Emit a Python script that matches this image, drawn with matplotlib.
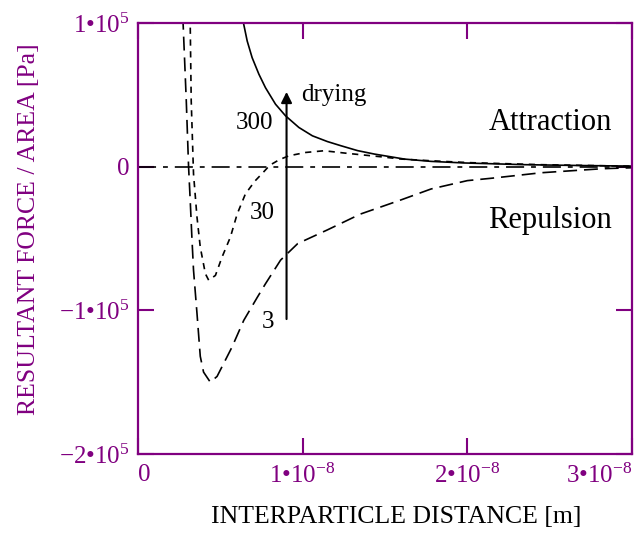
import numpy as np
import matplotlib
matplotlib.use("Agg")
import matplotlib.pyplot as plt

plt.rcParams['font.family'] = ['Liberation Serif', 'DejaVu Serif']
plt.rcParams['mathtext.fontset'] = 'custom'
plt.rcParams['mathtext.rm'] = 'Liberation Serif'
plt.rcParams['mathtext.it'] = 'Liberation Serif:italic'
plt.rcParams['lines.scale_dashes'] = False

PURPLE = '#800080'

# distances in units of 1e-8 m, forces in units of 1e5 Pa
dist_300 = [0.63, 0.642, 0.663, 0.693, 0.734, 0.774, 0.835, 0.896, 0.977, 1.059, 1.15,
            1.232, 1.333, 1.435, 1.618, 1.78, 1.98, 2.35, 2.7, 3.01]
force_300 = [1.06, 0.991, 0.875, 0.759, 0.644, 0.55, 0.435, 0.354, 0.273, 0.215, 0.175,
             0.146, 0.112, 0.088, 0.053, 0.037, 0.026, 0.014, 0.008, 0.004]

dist_30 = [0.311, 0.317, 0.323, 0.337, 0.358, 0.378, 0.409, 0.429, 0.47, 0.51, 0.561, 0.602,
           0.652, 0.71, 0.76, 0.80, 0.86, 0.917, 1.018, 1.13, 1.27, 1.476, 1.6, 1.8, 2.02,
           2.45, 3.01]
force_30 = [1.05, 0.99, 0.46, -0.05, -0.35, -0.56, -0.745, -0.79, -0.757, -0.63, -0.49, -0.33,
            -0.19, -0.10, -0.04, 0.01, 0.05, 0.076, 0.099, 0.111, 0.093, 0.069, 0.053, 0.04,
            0.028, 0.014, 0.003]

dist_3 = [0.268, 0.274, 0.293, 0.307, 0.317, 0.327, 0.337, 0.358, 0.378, 0.398, 0.439, 0.48,
          0.52, 0.571, 0.642, 0.724, 0.774, 0.866, 0.97, 1.15, 1.35, 1.60, 1.78, 2.0, 2.15,
          2.45, 2.82, 3.01]
force_3 = [1.05, 0.99, 0.46, 0.0, -0.236, -0.49, -0.72, -1.02, -1.32, -1.43, -1.50, -1.46,
           -1.37, -1.255, -1.07, -0.91, -0.815, -0.65, -0.535, -0.44, -0.33, -0.23, -0.155,
           -0.097, -0.08, -0.042, -0.014, -0.007]

x_ticks = [0, 1e-8, 2e-8, 3e-8]
x_ticklabels = ['0', '$1\u202210^{-8}$', '$2\u202210^{-8}$', '$3\u202210^{-8}$']
y_ticks = [-2e5, -1e5, 0, 1e5]
y_ticklabels = ['$-2\u202210^{5}\\;\\;$', '$-1\u202210^{5}\\;\\;$', '0', '$1\u202210^{5}\\;\\;$']

fig = plt.figure(figsize=(6.42, 5.36), dpi=100)
ax = fig.add_axes([0.215, 0.153, 0.7694, 0.804])

ax.axhline(0, color='black', lw=1.2, linestyle=(0, (13, 5, 3.5, 5)))
ax.plot(np.array(dist_300) * 1e-8, np.array(force_300) * 1e5, color='black', lw=1.2)
ax.plot(np.array(dist_30) * 1e-8, np.array(force_30) * 1e5, color='black', lw=1.2,
        linestyle=(0, (4.5, 4)))
ax.plot(np.array(dist_3) * 1e-8, np.array(force_3) * 1e5, color='black', lw=1.2,
        linestyle=(0, (10, 5)))

# drying arrow and curve labels
ax.annotate('', xy=(0.902e-8, 0.54e5), xytext=(0.902e-8, -1.08e5),
            arrowprops=dict(arrowstyle='-|>', lw=1.5, color='black', mutation_scale=16))
ax.text(0.988e-8, 0.5e5, 'drying', fontsize=18, ha='left', va='center')
ax.text(0.707e-8, 0.306e5, '300', fontsize=18, ha='center', va='center')
ax.text(0.756e-8, -0.32e5, '30', fontsize=18, ha='center', va='center')
ax.text(0.787e-8, -1.08e5, '3', fontsize=18, ha='center', va='center')
ax.text(2.128e-8, 0.31e5, 'Attraction', fontsize=22, ha='left', va='center')
ax.text(2.128e-8, -0.375e5, 'Repulsion', fontsize=22, ha='left', va='center')

ax.set_xlim(0, 3e-8)
ax.set_ylim(-2e5, 1e5)
ax.set_xticks(x_ticks)
ax.set_xticklabels(x_ticklabels)
ax.set_yticks(y_ticks)
ax.set_yticklabels(y_ticklabels)
xl = ax.get_xticklabels()
xl[0].set_ha('left')
xl[-1].set_ha('right')

ax.tick_params(direction='in', length=11.5, width=1.5, color=PURPLE, labelcolor=PURPLE,
               labelsize=18, top=True, right=True)
ax.tick_params(axis='y', pad=6)
ax.tick_params(axis='x', pad=7)
for sp in ax.spines.values():
    sp.set_color(PURPLE)
    sp.set_linewidth(1.6)

ax.set_xlabel('INTERPARTICLE DISTANCE [m]', fontsize=18.5, color='black')
ax.xaxis.set_label_coords(0.522, -0.12)
ax.set_ylabel('RESULTANT FORCE / AREA [Pa]', fontsize=18.5, color=PURPLE)
ax.yaxis.set_label_coords(-0.198, 0.522)

fig.savefig('out.png', dpi=100)
